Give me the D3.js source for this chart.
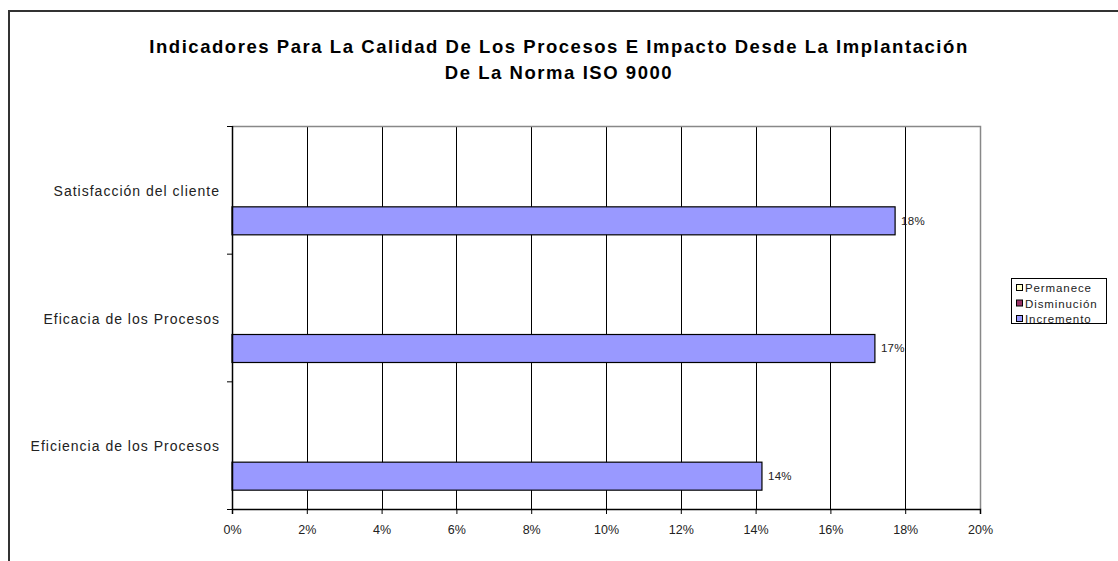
<!DOCTYPE html>
<html><head><meta charset="utf-8">
<script src="https://cdn.jsdelivr.net/npm/d3@7"></script>
<style>body{margin:0;background:#fff}svg{display:block;font-family:"Liberation Sans",Arial,sans-serif}</style>
</head><body><svg id="c" width="1118" height="561"></svg>
<script>
const categories = ["Satisfacción del cliente", "Eficacia de los Procesos", "Eficiencia de los Procesos"];
const seriesNames = ["Permanece", "Disminución", "Incremento"];
const permanece = [0, 0, 0];
const disminucion = [0, 0, 0];
const incremento = [0.1773, 0.1719, 0.1417];
const incrementoLabels = ["18%", "17%", "14%"];
const xTicks = [0, 0.02, 0.04, 0.06, 0.08, 0.10, 0.12, 0.14, 0.16, 0.18, 0.20];
const colors = ["#FFFFCC", "#993366", "#9999FF"];

const svg = d3.select("#c");
const seriesValues = [permanece, disminucion, incremento];
const L = 232, R = 980, T = 126, B = 509;

// outer frame
svg.append("path").attr("d", `M9,561 V11 H1118`).attr("fill","none").attr("stroke","#333").attr("stroke-width",2);

// title
const title = svg.append("text").attr("text-anchor","middle").attr("font-weight","bold").attr("font-size",18.5).attr("letter-spacing",1.55).attr("fill","#000");
title.append("tspan").attr("x",559).attr("y",53).text("Indicadores Para La Calidad De Los Procesos E Impacto Desde La Implantación");
title.append("tspan").attr("x",559).attr("y",79).text("De La Norma ISO 9000");

const x = d3.scaleLinear().domain([0, 0.20]).range([L, R]);
const y = d3.scaleBand().domain(categories).range([T, B]);
const inner = d3.scaleBand().domain(seriesNames).range([0, y.bandwidth()]).paddingOuter(0.78).paddingInner(0);

// gridlines
svg.append("g").selectAll("line").data(xTicks.slice(1, -1)).join("line")
  .attr("x1", d => Math.round(x(d)) + 0.5).attr("x2", d => Math.round(x(d)) + 0.5)
  .attr("y1", T).attr("y2", B).attr("stroke", "#000");

// plot border top/right gray
svg.append("path").attr("d", `M${L},${T+0.5} H${R+0.5} V${B}`).attr("fill","none").attr("stroke","#888").attr("stroke-width",1.5);

// bars
const groups = svg.append("g").selectAll("g").data(seriesNames).join("g");
groups.each(function(s, si) {
  d3.select(this).selectAll("rect").data(categories).join("rect")
    .attr("x", x(0))
    .attr("y", c => y(c) + inner(s) + 3)
    .attr("width", (c, i) => x(seriesValues[si][i]) - x(0))
    .attr("height", inner.bandwidth())
    .attr("fill", colors[si])
    .attr("stroke", seriesValues[si].some(v => v > 0) ? "#000" : "none")
    .attr("stroke-width", 1.2);
});

// data labels
svg.append("g").selectAll("text").data(categories).join("text")
  .attr("x", (c, i) => x(incremento[i]) + 6)
  .attr("y", c => y(c) + inner("Incremento") + 3 + inner.bandwidth() / 2 + 4)
  .attr("font-size", 11.5).attr("letter-spacing", 0.3).attr("fill", "#222")
  .text((c, i) => incrementoLabels[i]);

// x axis
const xAxis = svg.append("g").attr("transform", `translate(0,${B})`)
  .call(d3.axisBottom(x).tickValues(xTicks).tickFormat(d3.format(".0%")).tickSizeOuter(0).tickSize(5));
xAxis.select(".domain").attr("stroke", "#000").attr("stroke-width", 1.5);
xAxis.selectAll(".tick line").attr("stroke", "#000");
xAxis.selectAll("text").attr("font-size", 12.5).attr("fill", "#222").attr("dy", "1.35em").attr("font-family", "Liberation Sans, Arial, sans-serif");

// y axis
const yEdges = [T, ...categories.map(c => y(c) + y.bandwidth())];
svg.append("line").attr("x1", L + 0.5).attr("x2", L + 0.5).attr("y1", T).attr("y2", B).attr("stroke", "#000").attr("stroke-width", 1.5);
svg.append("g").selectAll("line").data(yEdges).join("line")
  .attr("x1", L - 5).attr("x2", L).attr("y1", d => d + 0.5).attr("y2", d => d + 0.5).attr("stroke", "#000");
svg.append("g").selectAll("text").data(categories).join("text")
  .attr("x", 220).attr("y", c => y(c) + y.bandwidth() / 2 + 6)
  .attr("text-anchor", "end").attr("font-size", 14).attr("letter-spacing", 1.0).attr("fill", "#222").text(c => c);

// legend
const lg = svg.append("g");
lg.append("rect").attr("x", 1011.5).attr("y", 278.5).attr("width", 95).attr("height", 45).attr("fill", "#fff").attr("stroke", "#000");
lg.selectAll("g").data(seriesNames).join("g").each(function(s, i) {
  const g = d3.select(this);
  const cy = 288 + i * 15.5;
  g.append("rect").attr("x", 1016.5).attr("y", cy - 3.5).attr("width", 6).attr("height", 6).attr("fill", colors[i]).attr("stroke", "#000");
  g.append("text").attr("x", 1025).attr("y", cy + 4).attr("font-size", 11.5).attr("letter-spacing", 0.9).attr("fill", "#222").text(s);
});
</script></body></html>
